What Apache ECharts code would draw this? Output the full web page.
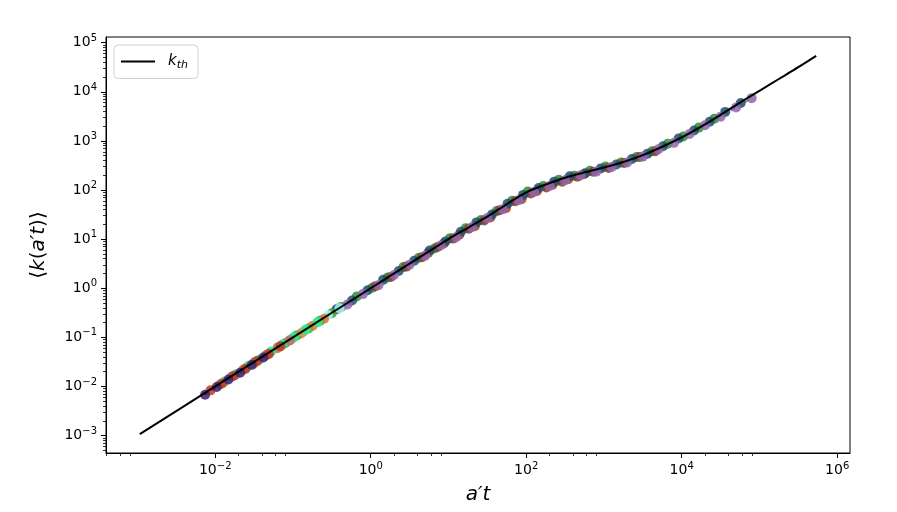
<!DOCTYPE html>
<html><head><meta charset="utf-8">
<script src="https://cdn.jsdelivr.net/npm/echarts@6/dist/echarts.min.js"></script>
<style>html,body{margin:0;padding:0;background:#fff}#c{width:897px;height:512px}</style>
</head><body><div id="c"></div>
<script>
// ---- data ----
const kthX = [1.07e-3, 1e-2, 0.1, 1, 3.16, 10, 17.8, 31.6, 56.2, 100, 178, 316, 562, 1000, 1778, 3162, 5623, 1e4, 1.778e4, 3.162e4, 5.623e4, 1e5, 1.778e5, 3.162e5, 5.37e5];
const kthY = [1.07e-3, 1e-2, 0.1, 1, 3.16, 10, 17.0, 28.8, 51.3, 89.1, 129, 178, 229, 288, 372, 513, 759, 1175, 1950, 3388, 6026, 1.047e4, 1.82e4, 3.16e4, 5.37e4];

const indigoX = [0.00741, 0.01047, 0.01479, 0.02089, 0.02951, 0.04169];
const indigoY = [0.00676, 0.00977, 0.01380, 0.01905, 0.02754, 0.03890];
const redLowX = [0.00871, 0.01230, 0.01738, 0.02455, 0.03467, 0.04898, 0.06918];
const redLowY = [0.00832, 0.01148, 0.01660, 0.02291, 0.03311, 0.04571, 0.06607];
const rosyX = [0.01148, 0.01622, 0.02291, 0.03236, 0.04571, 0.06457, 0.09120];
const rosyY = [0.01096, 0.01585, 0.02188, 0.03162, 0.04365, 0.06310, 0.08710];
const springX = [0.01318, 0.01862, 0.02630, 0.03715, 0.05248, 0.07413, 0.1047, 0.1479, 0.2089];
const springY = [0.01259, 0.01778, 0.02570, 0.03548, 0.05129, 0.07244, 0.1023, 0.1445, 0.2042];
const khakiX = [0.02399, 0.03388, 0.04786, 0.06761, 0.09550, 0.1349];
const khakiY = [0.02291, 0.03236, 0.04571, 0.06457, 0.09120, 0.1288];
const orangeX = [0.03162, 0.04467, 0.06310, 0.08913, 0.1259, 0.1778, 0.2512];
const orangeY = [0.02951, 0.04266, 0.06026, 0.08511, 0.1202, 0.1698, 0.2399];
const cyanX = [0.05012, 0.07079, 0.1, 0.1413, 0.1995, 0.2818, 0.3981];
const cyanY = [0.04898, 0.07079, 0.09772, 0.1413, 0.1950, 0.2818, 0.3890];
const greenLowX = [0.07943, 0.1122, 0.1585, 0.2239, 0.3162];
const greenLowY = [0.07586, 0.1096, 0.1514, 0.2188, 0.3090];
const greenX = [0.417, 0.661, 1.047, 1.660, 2.630, 4.169, 6.607, 10.47, 16.60, 26.30, 41.69, 66.07, 104.7, 166.0, 263.0, 416.9, 660.7, 1047, 1660, 2630, 4169, 6607, 10470, 16600, 26300];
const greenY = [0.417, 0.676, 1.023, 1.660, 2.692, 4.169, 6.457, 10.47, 16.60, 24.55, 37.15, 60.26, 93.33, 120.2, 162.2, 195.0, 245.5, 302.0, 363.1, 467.7, 616.6, 871.0, 1230, 1862, 2818];
const maroonX = [1.148, 1.820, 2.884, 4.571, 7.244, 11.48, 18.20, 28.84, 45.71, 72.44, 114.8, 182.0, 288.4, 457.1, 724.4, 1148, 1820, 2884, 4571];
const maroonY = [1.096, 1.698, 2.754, 4.266, 6.918, 10.23, 16.22, 23.99, 38.90, 58.88, 85.11, 112.2, 147.9, 186.2, 234.4, 281.8, 354.8, 467.7, 616.6];
const redX = [5.495, 8.710, 13.80, 21.88, 34.67, 54.95, 87.10, 138.0, 218.8, 346.7, 549.5];
const redY = [5.248, 8.128, 12.30, 18.20, 27.54, 42.66, 64.57, 95.50, 128.8, 166.0, 208.9];
const tealX = [0.363, 0.575, 0.912, 1.445, 2.291, 3.631, 5.754, 9.120, 14.45, 22.91, 36.31, 57.54, 91.20, 144.5, 229.1, 363.1, 575.4, 912.0, 1445, 2291, 3631, 5754, 9120, 14450, 22910, 36310, 57540];
const tealY = [0.372, 0.562, 0.912, 1.479, 2.239, 3.631, 5.888, 8.913, 14.13, 21.88, 31.62, 52.48, 79.43, 109.6, 147.9, 190.5, 218.8, 275.4, 331.1, 426.6, 549.5, 776.2, 1122, 1622, 2455, 3890, 5888];
const purpleX = [0.501, 0.794, 1.259, 1.995, 3.162, 5.012, 7.943, 12.59, 19.95, 31.62, 50.12, 79.43, 125.9, 199.5, 316.2, 501.2, 794.3, 1259, 1995, 3162, 5012, 7943, 12590, 19950, 31620, 50120, 79430];
const purpleY = [0.468, 0.759, 1.148, 1.862, 3.020, 4.571, 7.413, 10.96, 17.38, 26.92, 40.74, 61.66, 91.20, 120.2, 158.5, 199.5, 234.4, 295.1, 363.1, 478.6, 676.1, 912.0, 1380, 2089, 3090, 4786, 7413];

const xMajorTicks = [1e-2, 1, 1e2, 1e4, 1e6];
const yMajorTicks = [1e-3, 1e-2, 1e-1, 1, 1e1, 1e2, 1e3, 1e4, 1e5];
const xRange = [Math.pow(10, -3.405), Math.pow(10, 6.165)];
const yRange = [Math.pow(10, -3.355), Math.pow(10, 5.115)];

// ---- build ----
const xMinorTicks = [];
[-4, -2, 0, 2, 4].forEach(k => [2, 4, 6, 8].forEach(m => xMinorTicks.push(m * Math.pow(10, k))));
const yMinorTicks = [];
for (let k = -4; k <= 4; k++) for (let m = 2; m <= 9; m++) yMinorTicks.push(m * Math.pow(10, k));

const FONT = 'DejaVu Sans';
function fmt(v) {
  const e = Math.round(Math.log10(v));
  const s = e < 0 ? '\u2212' + (-e) : String(e);
  return '{b|10}{s|' + s + '}';
}
const labelRich = {
  b: {fontSize: 14, fontFamily: FONT, color: '#000'},
  s: {fontSize: 10, fontFamily: FONT, color: '#000', padding: [0, 0, 9, 0]}
};
function zip(xs, ys) { return xs.map((x, i) => [x, ys[i]]); }

const dataSeries = [
  [greenX, greenY, '#2b922b'],
  [maroonX, maroonY, '#8c3b3b'],
  [redX, redY, '#b83a20'],
  [tealX, tealY, '#1d506f'],
  [purpleX, purpleY, '#8d66ad'],
  [greenLowX, greenLowY, '#3d9b32'],
  [cyanX, cyanY, '#a8f3f1'],
  [orangeX, orangeY, '#cf7b2b'],
  [khakiX, khakiY, '#c9a55b'],
  [springX, springY, '#24e886'],
  [rosyX, rosyY, '#a57a78'],
  [redLowX, redLowY, '#c03b1e'],
  [indigoX, indigoY, '#3e1f6d']
];

const series = dataSeries.map(([xs, ys, c]) => ({
  type: 'line', xAxisIndex: 0, yAxisIndex: 0,
  data: zip(xs, ys),
  symbol: 'circle', symbolSize: 10, showSymbol: true,
  itemStyle: {color: c, opacity: 0.85},
  lineStyle: {color: c, width: 2, type: [5, 3], opacity: 0.85},
  silent: true, z: 2
}));
series.push({
  name: 'k_th', type: 'line', xAxisIndex: 0, yAxisIndex: 0,
  data: zip(kthX, kthY), symbol: 'none', smooth: 0.3,
  lineStyle: {color: '#000', width: 2}, itemStyle: {color: '#000'}, z: 5
});

function axisBase(range, extra) {
  return Object.assign({
    type: 'log', logBase: 10, min: range[0], max: range[1], gridIndex: 0,
    splitLine: {show: false}, minorTick: {show: false}, minorSplitLine: {show: false},
    axisPointer: {show: false}
  }, extra);
}

const option = {
  animation: false,
  backgroundColor: '#fff',
  grid: {left: 106, right: 47, top: 37, bottom: 59, show: true, borderColor: '#000', borderWidth: 1, backgroundColor: 'transparent'},
  legend: {
    data: [{name: 'k_th', icon: 'rect'}], left: 114, top: 45, orient: 'vertical',
    itemWidth: 34, itemHeight: 2, padding: [9, 10, 8, 7],
    itemStyle: {color: '#000'},
    borderColor: '#d0d0d0', borderWidth: 1, borderRadius: 4, backgroundColor: 'rgba(255,255,255,0.8)',
    formatter: () => '{k|k}{s|th}',
    textStyle: {rich: {
      k: {fontSize: 15, fontStyle: 'italic', fontFamily: FONT, color: '#000', padding: [0, 0, 0, 8]},
      s: {fontSize: 11, fontStyle: 'italic', fontFamily: FONT, color: '#000', padding: [7, 0, 0, 0]}
    }}
  },
  xAxis: [
    axisBase(xRange, {
      position: 'bottom',
      axisLine: {show: true, onZero: false, lineStyle: {color: '#000', width: 1}},
      axisTick: {show: true, inside: false, length: 5, customValues: xMajorTicks, lineStyle: {color: '#000', width: 1}},
      axisLabel: {show: true, customValues: xMajorTicks, formatter: fmt, rich: labelRich, margin: 8, color: '#000'},
      name: 'a\u2032t', nameLocation: 'middle', nameGap: 32,
      nameTextStyle: {fontSize: 20, fontStyle: 'italic', fontFamily: FONT, color: '#000'}
    }),
    axisBase(xRange, {
      position: 'bottom',
      axisLine: {show: false, onZero: false},
      axisTick: {show: true, inside: false, length: 3, customValues: xMinorTicks, lineStyle: {color: '#000', width: 0.8}},
      axisLabel: {show: false}
    })
  ],
  yAxis: [
    axisBase(yRange, {
      position: 'left',
      axisLine: {show: true, onZero: false, lineStyle: {color: '#000', width: 1}},
      axisTick: {show: true, inside: false, length: 5, customValues: yMajorTicks, lineStyle: {color: '#000', width: 1}},
      axisLabel: {show: true, customValues: yMajorTicks, formatter: fmt, rich: labelRich, margin: 9, color: '#000'},
      name: '{n|\u27e8}{i|k}{n|(}{i|a\u2032t}{n|)\u27e9}', nameLocation: 'middle', nameGap: 57, nameRotate: 90,
      nameTextStyle: {rich: {
        n: {fontSize: 20, fontFamily: FONT, color: '#000'},
        i: {fontSize: 20, fontStyle: 'italic', fontFamily: FONT, color: '#000'}
      }}
    }),
    axisBase(yRange, {
      position: 'left',
      axisLine: {show: false, onZero: false},
      axisTick: {show: true, inside: false, length: 3, customValues: yMinorTicks, lineStyle: {color: '#000', width: 0.8}},
      axisLabel: {show: false}
    })
  ],
  series: series
};

const chart = echarts.init(document.getElementById('c'), null, {renderer: 'canvas'});
chart.setOption(option);
</script>
</body></html>
